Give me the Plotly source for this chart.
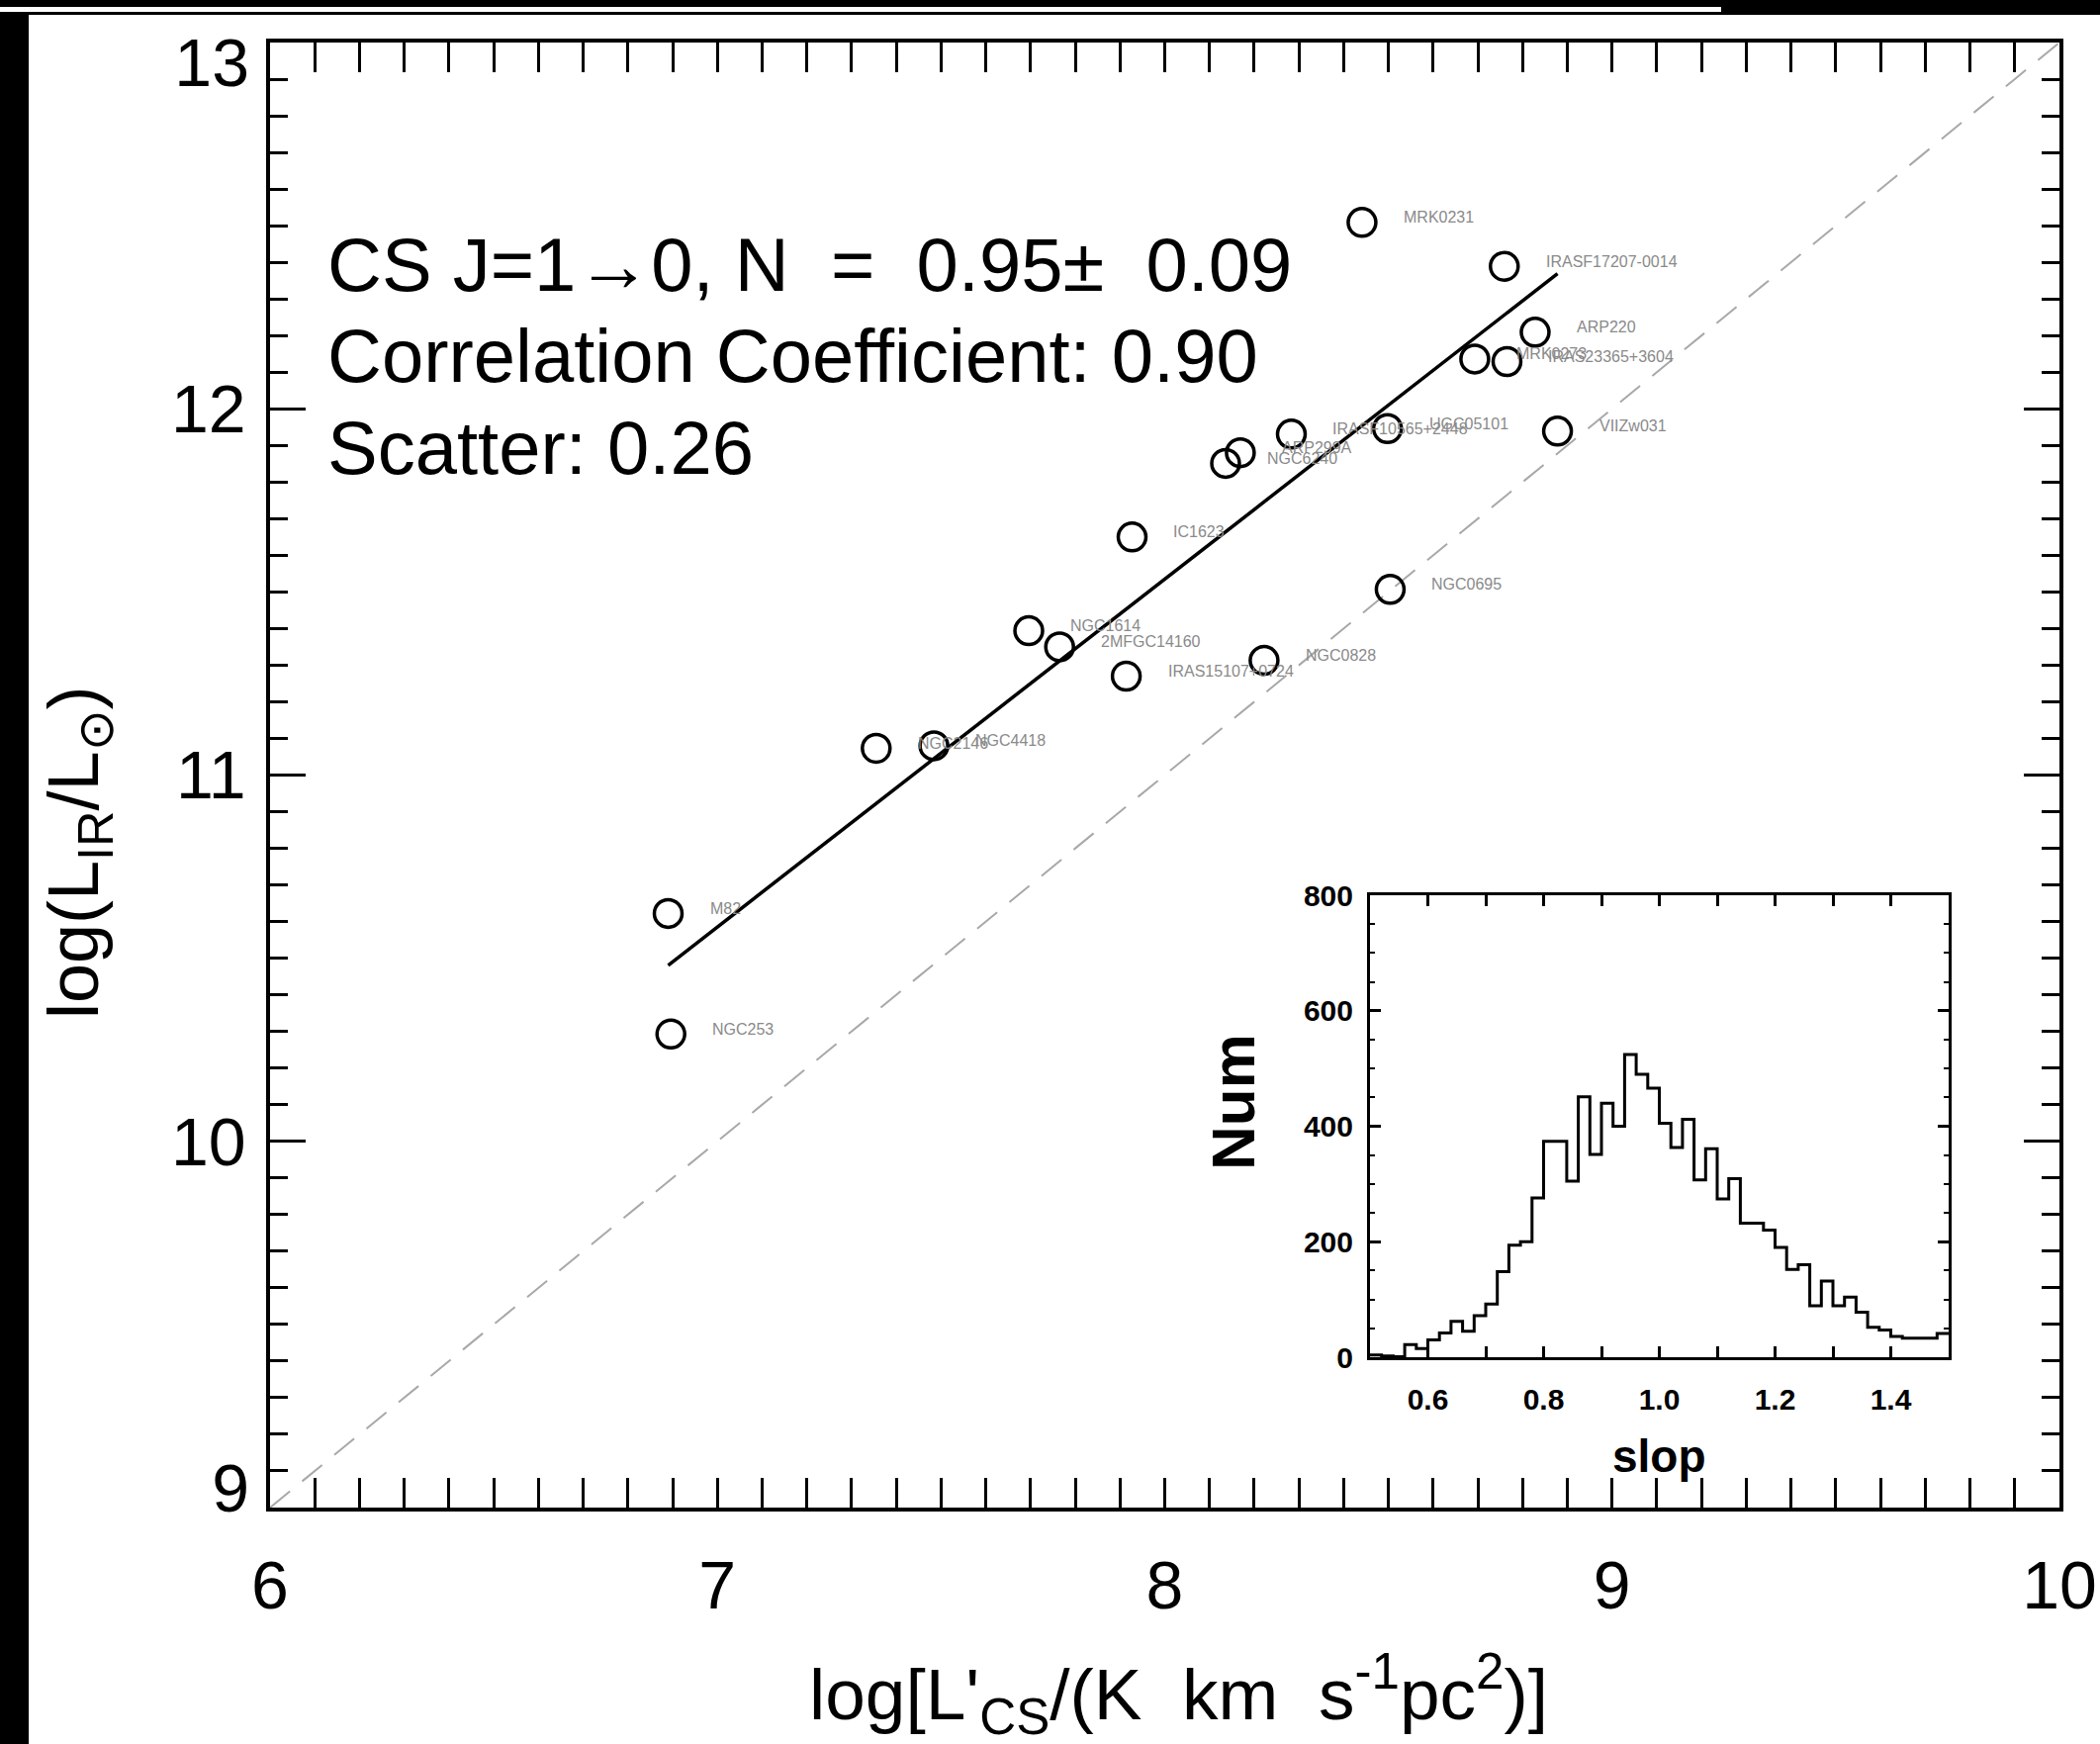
import plotly.graph_objects as go

W, H = 2123, 1763

# ---------------- data ----------------
galaxy_names = ["MRK0231", "IRASF17207-0014", "ARP220", "MRK0273", "IRAS23365+3604",
                "VIIZw031", "UGC05101", "IRASF10565+2448", "ARP299A", "NGC6240",
                "IC1623", "NGC0695", "NGC1614", "2MFGC14160", "IRAS15107+0724",
                "NGC0828", "NGC2146", "NGC4418", "M82", "NGC253"]
log_lcs = [8.441, 8.759, 8.828, 8.693, 8.765,
           8.878, 8.498, 8.283, 8.169, 8.136,
           7.927, 8.504, 7.696, 7.765, 7.914,
           8.222, 7.355, 7.484, 6.890, 6.896]
log_lir = [12.509, 12.389, 12.209, 12.136, 12.129,
           11.939, 11.946, 11.931, 11.880, 11.851,
           11.650, 11.507, 11.394, 11.350, 11.270,
           11.313, 11.073, 11.080, 10.622, 10.293]

fit_slope = 0.95
fit_intercept = 3.935
unity_offset = 3.0

x_ticks = [6, 7, 8, 9, 10]
y_ticks_mid = [10, 11, 12]
y_tick_top = [13]
y_tick_bottom = [9]

stats_lines = ["CS J=1\u21920, N  =  0.95\u00b1  0.09",
               "Correlation Coefficient: 0.90",
               "Scatter: 0.26"]

# histogram of bootstrap slopes
hist_bin_start = 0.50
hist_bin_width = 0.02
hist_counts = [4, 2, 1, 22, 15, 30, 42, 62, 45, 72,
               92, 148, 194, 200, 276, 374, 374, 305, 451, 351,
               440, 400, 524, 490, 466, 405, 363, 412, 307, 361,
               274, 309, 232, 232, 220, 190, 152, 160, 89, 132,
               89, 104, 78, 52, 47, 36, 33, 33, 33, 41]
inset_xticks = [0.6, 0.8, 1.0, 1.2, 1.4]
inset_xlabels = ["0.6", "0.8", "1.0", "1.2", "1.4"]
inset_yticks = [0, 200, 400, 600, 800]

# ---------------- figure ----------------
FONT = "Liberation Sans, Arial, Helvetica, sans-serif"
fig = go.Figure()

# unity (dashed) line
ux = [6, 10]
fig.add_trace(go.Scatter(x=ux, y=[v + unity_offset for v in ux], mode="lines",
                         line=dict(color="#a8a8a8", width=2, dash="26px,16px"),
                         hoverinfo="skip", showlegend=False))
# fit line
fx = [min(log_lcs), max(log_lcs)]
fig.add_trace(go.Scatter(x=fx, y=[fit_slope * v + fit_intercept for v in fx], mode="lines",
                         line=dict(color="black", width=3.5),
                         hoverinfo="skip", showlegend=False))
# points
fig.add_trace(go.Scatter(x=log_lcs, y=log_lir, mode="markers",
                         marker=dict(symbol="circle-open", size=28, color="black",
                                     line=dict(width=3.5, color="black")),
                         text=galaxy_names, showlegend=False))
# empty traces so the overlay label axes exist
fig.add_trace(go.Scatter(x=[], y=[], xaxis="x", yaxis="y3", showlegend=False, hoverinfo="skip"))
fig.add_trace(go.Scatter(x=[], y=[], xaxis="x", yaxis="y4", showlegend=False, hoverinfo="skip"))

# histogram (step line)
edges = [round(hist_bin_start + i * hist_bin_width, 4) for i in range(len(hist_counts) + 1)]
fig.add_trace(go.Scatter(x=edges, y=hist_counts + [hist_counts[-1]], mode="lines",
                         line=dict(color="black", width=3, shape="hv"),
                         xaxis="x2", yaxis="y2", hoverinfo="skip", showlegend=False))

annotations = []
for n, xv, yv in zip(galaxy_names, log_lcs, log_lir):
    annotations.append(dict(x=xv, y=yv, xref="x", yref="y", text=n, showarrow=False,
                            xanchor="left", yanchor="middle", xshift=40, yshift=5,
                            font=dict(family=FONT, size=16, color="#8a8a8a")))
stat_y = [12.395, 12.144, 11.895]
for t, yv in zip(stats_lines, stat_y):
    annotations.append(dict(x=6.124, y=yv, xref="x", yref="y", text=t, showarrow=False,
                            xanchor="left", yanchor="middle",
                            font=dict(family=FONT, size=76, color="black")))
# axis titles
annotations.append(dict(x=1191 / W, y=(H - 1712) / H, xref="paper", yref="paper",
                        text="log[L'<sub>CS</sub>/(K  km  s<sup>-1</sup>pc<sup>2</sup>)]",
                        showarrow=False, xanchor="center", yanchor="middle",
                        font=dict(family=FONT, size=73, color="black")))
annotations.append(dict(x=79 / W, y=(H - 862) / H, xref="paper", yref="paper",
                        text="log(L<sub>IR</sub>/L<sub>\u2299</sub>)", textangle=-90,
                        showarrow=False, xanchor="center", yanchor="middle",
                        font=dict(family=FONT, size=72, color="black")))
annotations.append(dict(x=1677 / W, y=(H - 1472) / H, xref="paper", yref="paper",
                        text="<b>slop</b>", showarrow=False, xanchor="center", yanchor="middle",
                        font=dict(family=FONT, size=46, color="black")))
annotations.append(dict(x=1246 / W, y=(H - 1114) / H, xref="paper", yref="paper",
                        text="<b>Num</b>", textangle=-90, showarrow=False,
                        xanchor="center", yanchor="middle",
                        font=dict(family=FONT, size=62, color="black")))

shapes = [
    dict(type="rect", xref="paper", yref="paper", x0=0, x1=29 / W, y0=0, y1=1,
         fillcolor="black", line=dict(width=0), layer="above"),
    dict(type="rect", xref="paper", yref="paper", x0=0, x1=1, y0=(H - 15) / H, y1=1,
         fillcolor="black", line=dict(width=0), layer="above"),
    dict(type="rect", xref="paper", yref="paper", x0=0, x1=1740 / W, y0=(H - 12) / H, y1=(H - 7) / H,
         fillcolor="white", line=dict(width=0), layer="above"),
]

axis_common = dict(showline=True, linecolor="black", linewidth=3.5, mirror="allticks",
                   ticks="inside", tickcolor="black", showgrid=False, zeroline=False,
                   automargin=False)
main_ydomain = [(H - 1524) / H, (H - 43) / H]
ytickfont = dict(family=FONT, size=68, color="black")
label_axis = dict(showline=False, ticks="", showgrid=False, zeroline=False, automargin=False,
                  overlaying="y", anchor="x", side="left", range=[9, 13],
                  ticklabelstandoff=20, tickfont=ytickfont)

fig.update_layout(
    width=W, height=H, margin=dict(l=0, r=0, t=0, b=0, pad=0, autoexpand=False),
    paper_bgcolor="white", plot_bgcolor="white",
    xaxis=dict(**axis_common, range=[6, 10], domain=[273 / W, 2082 / W],
               tickvals=x_ticks, ticklen=30, tickwidth=3, ticklabelstandoff=17,
               minor=dict(dtick=0.1, ticklen=15, tickwidth=2.5, ticks="inside", tickcolor="black"),
               tickfont=dict(family=FONT, size=68, color="black")),
    yaxis=dict(**axis_common, range=[9, 13], domain=main_ydomain,
               tickvals=y_ticks_mid, ticklen=36, tickwidth=3, ticklabelstandoff=7,
               minor=dict(dtick=0.1, ticklen=18, tickwidth=2.5, ticks="inside", tickcolor="black"),
               tickfont=ytickfont),
    yaxis3=dict(**label_axis, tickvals=y_tick_top, ticklabelshift=20),
    yaxis4=dict(**label_axis, tickvals=y_tick_bottom, ticklabelshift=-20),
    xaxis2=dict(showline=True, linecolor="black", linewidth=3, mirror="allticks",
                ticks="inside", tickcolor="black", showgrid=False, zeroline=False,
                automargin=False,
                anchor="y2", range=[0.5, 1.5], domain=[1385 / W, 1970 / W],
                tickvals=inset_xticks, ticktext=inset_xlabels, ticklen=11, tickwidth=2.5,
                ticklabelstandoff=14,
                minor=dict(dtick=0.1, ticklen=11, tickwidth=2.5, ticks="inside", tickcolor="black"),
                tickfont=dict(family=FONT, size=30, color="black", weight="bold")),
    yaxis2=dict(showline=True, linecolor="black", linewidth=3, mirror="allticks",
                ticks="inside", tickcolor="black", showgrid=False, zeroline=False,
                automargin=False,
                anchor="x2", range=[0, 800], domain=[(H - 1372) / H, (H - 905) / H],
                tickvals=inset_yticks, ticklen=11, tickwidth=2.5, ticklabelstandoff=8,
                minor=dict(dtick=50, ticklen=5, tickwidth=2, ticks="inside", tickcolor="black"),
                tickfont=dict(family=FONT, size=30, color="black", weight="bold")),
    annotations=annotations, shapes=shapes, showlegend=False,
)

fig.write_html("out.html", config={"displayModeBar": False},
               post_script="document.body.style.margin='0px';"
                           "document.body.style.overflow='hidden';")
